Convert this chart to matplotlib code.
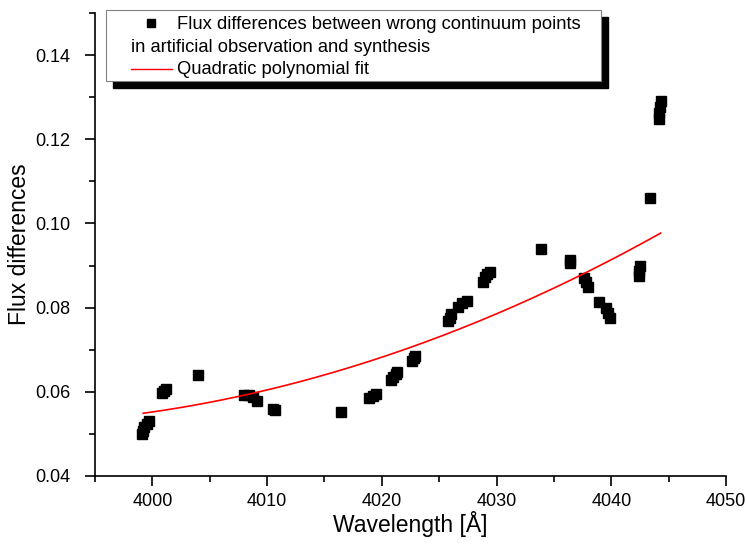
import numpy as np
import matplotlib
matplotlib.use("Agg")
import matplotlib.pyplot as plt
from matplotlib.patches import Rectangle
from matplotlib.lines import Line2D
from matplotlib.ticker import MultipleLocator, FormatStrFormatter

plt.rcParams['font.family'] = ['Liberation Sans', 'DejaVu Sans']

# Measured flux differences at the misplaced continuum points
wavelength = [3999.1, 3999.2, 3999.3, 3999.5, 3999.7,
              4000.8, 4001.0, 4001.2,
              4004.0,
              4008.0, 4008.4, 4008.8, 4009.1,
              4010.5, 4010.7,
              4016.4,
              4018.9, 4019.2, 4019.5,
              4020.8, 4021.0, 4021.2, 4021.3,
              4022.6, 4022.8, 4022.9,
              4025.8, 4025.9, 4026.0, 4026.6, 4027.0, 4027.4,
              4028.8, 4029.0, 4029.2, 4029.4,
              4033.85,
              4036.4, 4036.4,
              4037.6, 4037.8, 4038.0,
              4038.9, 4039.5, 4039.7, 4039.9,
              4042.4, 4042.4, 4042.5,
              4043.4,
              4044.2, 4044.2, 4044.25, 4044.3]
flux_diff = [0.0500, 0.0508, 0.0516, 0.0524, 0.0530,
             0.0597, 0.0602, 0.0606,
             0.0641,
             0.0593, 0.0592, 0.0587, 0.0578,
             0.0560, 0.0556,
             0.0553,
             0.0586, 0.0591, 0.0596,
             0.0628, 0.0636, 0.0643, 0.0648,
             0.0673, 0.0681, 0.0686,
             0.0768, 0.0776, 0.0786, 0.0801, 0.0810, 0.0816,
             0.0862, 0.0872, 0.0880, 0.0885,
             0.0940,
             0.0906, 0.0914,
             0.0871, 0.0860, 0.0850,
             0.0814, 0.0800, 0.0788, 0.0775,
             0.0874, 0.0886, 0.0900,
             0.1060,
             0.1248, 0.1262, 0.1277, 0.1290]

# Quadratic fit: flux = a*(lam-4000)^2 + b*(lam-4000) + c
fit_coef = [1.27e-5, 3.965e-4, 0.05521]
fit_range = [3999.2, 4044.3]
fit_origin = 4000.0

x_ticks = [4000, 4010, 4020, 4030, 4040, 4050]
y_ticks = [0.04, 0.06, 0.08, 0.10, 0.12, 0.14]

W, H = 746, 549
fig = plt.figure(figsize=(W / 100, H / 100), dpi=100)
ax = fig.add_axes([95 / W, 1 - 476 / H, (726 - 95) / W, (476 - 13) / H])

ax.plot(wavelength, flux_diff, linestyle='none', marker='s', ms=7.2,
        color='black', zorder=3)

xf = np.linspace(fit_range[0], fit_range[1], 200)
ax.plot(xf, np.polyval(fit_coef, xf - fit_origin), color='red', lw=1.2,
        zorder=4)

ax.set_xlim(3995, 4050)
ax.set_ylim(0.04, 0.15)
ax.set_xticks(x_ticks)
ax.set_yticks(y_ticks)
ax.xaxis.set_minor_locator(MultipleLocator(5))
ax.yaxis.set_minor_locator(MultipleLocator(0.01))
ax.yaxis.set_major_formatter(FormatStrFormatter('%.2f'))
for s in ('top', 'right'):
    ax.spines[s].set_visible(False)
for s in ('left', 'bottom'):
    ax.spines[s].set_linewidth(1.2)
ax.tick_params(which='major', direction='out', length=7, width=1.2,
               labelsize=13, pad=5)
ax.tick_params(which='minor', direction='out', length=4.5, width=1.2)
ax.tick_params(axis='y', which='major', pad=10.5)
ax.set_xlabel('Wavelength [Å]', fontsize=16.5, labelpad=1)
ax.set_ylabel('Flux differences', fontsize=16.5, labelpad=3)


# Legend box with drop shadow, placed in pixel coordinates
def px(x, y):
    return x / W, 1 - y / H


bx0, by0, bx1, by1 = 106, 10, 601, 81
sx, sy = px(bx0 + 7, by1 + 7)
fig.patches.append(Rectangle((sx, sy), (bx1 - bx0) / W, (by1 - by0) / H,
                             transform=fig.transFigure, facecolor='black',
                             edgecolor='black', zorder=5))
lx, ly = px(bx0, by1)
fig.patches.append(Rectangle((lx, ly), (bx1 - bx0) / W, (by1 - by0) / H,
                             transform=fig.transFigure, facecolor='white',
                             edgecolor='#808080', lw=0.8, zorder=6))
mx, my = px(151, 22.5)
fig.lines.append(Line2D([mx], [my], transform=fig.transFigure, marker='s',
                        ms=6, color='black', zorder=7))
fig.text(*px(177, 29), 'Flux differences between wrong continuum points',
         fontsize=13.2, va='baseline', ha='left', zorder=7)
fig.text(*px(131, 52.5), 'in artificial observation and synthesis',
         fontsize=13.2, va='baseline', ha='left', zorder=7)
l0 = px(131, 68.5)
l1 = px(172, 68.5)
fig.lines.append(Line2D([l0[0], l1[0]], [l0[1], l1[1]],
                        transform=fig.transFigure, color='red', lw=1.0,
                        zorder=7))
fig.text(*px(177, 74), 'Quadratic polynomial fit',
         fontsize=13.2, va='baseline', ha='left', zorder=7)

fig.savefig('out.png', dpi=100)
